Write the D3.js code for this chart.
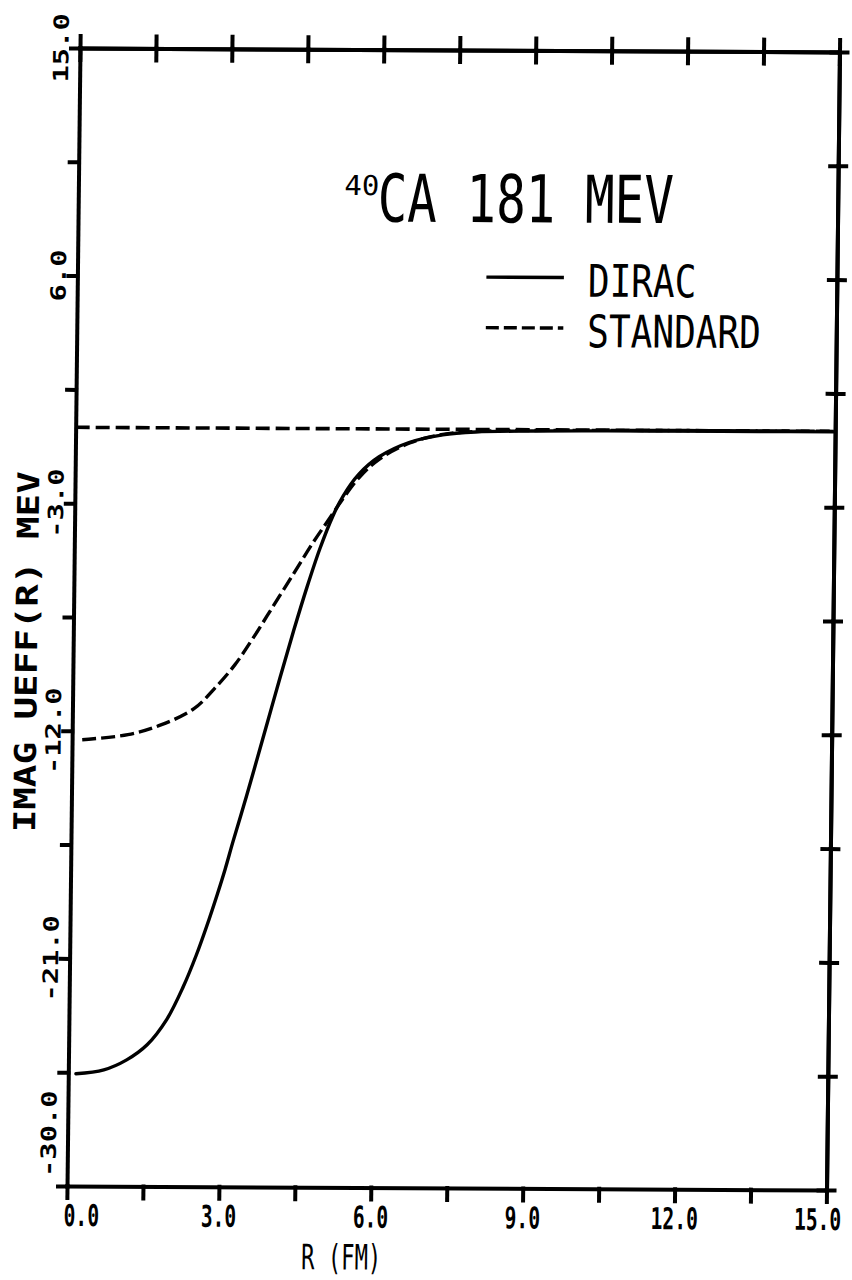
<!DOCTYPE html>
<html>
<head>
<meta charset="utf-8">
<script src="https://cdn.jsdelivr.net/npm/d3@7"></script>
<style>
body { margin: 0; background: #fff; }
svg { display: block; background: #fff; }
.page text { font-family: "DejaVu Sans Mono", "Liberation Mono", monospace; fill: #000; }
.axis path, .axis line { stroke: #000; stroke-width: 4; stroke-linecap: square; }
</style>
</head>
<body>
<svg class="chart" width="852" height="1280"></svg>
<script>
//curve data, r in fm, imag ueff in mev
const diracR = [0.15, 0.7, 1.15, 1.55, 1.93, 2.25, 2.5, 2.7, 2.9, 3.05, 3.2, 3.4, 3.6, 3.85, 4.1, 4.35, 4.6, 4.85, 5.1, 5.3, 5.6, 6.0, 6.6, 7.25, 7.9, 9.0, 10.5, 12.0, 13.5, 15.0];
const diracV = [-25.56, -25.4, -25.0, -24.4, -23.4, -22.1, -20.85, -19.7, -18.45, -17.45, -16.35, -14.95, -13.5, -11.65, -9.8, -8.0, -6.3, -4.75, -3.45, -2.65, -1.8, -1.1, -0.52, -0.22, -0.1, -0.05, -0.03, -0.02, -0.02, -0.02];
const standardR = [0.2, 1.1, 1.75, 2.4, 2.8, 3.2, 3.55, 3.95, 4.35, 4.7, 5.0, 5.25, 5.6, 6.0, 6.6, 7.25, 8.0, 9.0, 10.5, 12.0, 13.5, 15.0];
const standardV = [-12.35, -12.14, -11.75, -11.1, -10.3, -9.35, -8.3, -7.0, -5.7, -4.55, -3.65, -2.9, -1.95, -1.2, -0.55, -0.2, -0.07, -0.03, -0.01, 0, 0, 0];
const zeroR = [0, 15];
const zeroV = [0, 0];

//ticks and labels
const xTickValues = [0, 1.5, 3, 4.5, 6, 7.5, 9, 10.5, 12, 13.5, 15];
const yTickValues = [-30, -25.5, -21, -16.5, -12, -7.5, -3, 1.5, 6, 10.5, 15];
const xLabelValues = [0, 3, 6, 9, 12, 15];
const xLabels = ["0.0", "3.0", "6.0", "9.0", "12.0", "15.0"];
const yLabelValues = [-30, -21, -12, -3, 6, 15];
const yLabels = ["-30.0", "-21.0", "-12.0", "-3.0", "6.0", "15.0"];
const legendNames = ["DIRAC", "STANDARD"];

let svg = d3.select(".chart"),
	margin = {top: 50, right: 19, bottom: 92, left: 73.5},
	width = svg.attr("width") - margin.left - margin.right,
	height = svg.attr("height") - margin.top - margin.bottom;

//the scanned sheet is a little skewed
let page = svg.append("g")
	.attr("class", "page")
	.attr("transform", "matrix(1,0.0053,-0.0114,1,7.06,-2.4)");

let g = page.append("g")
	.attr("transform", "translate(" + margin.left + "," + margin.top + ")");

let x = d3.scaleLinear().domain([0, 15]).range([0, width]),
	y = d3.scaleLinear().domain([-30, 15]).range([height, 0]);

let line = d3.line()
	.x(function(d) { return x(d[0]); })
	.y(function(d) { return y(d[1]); })
	.curve(d3.curveCatmullRom.alpha(0.5));

//curves
g.append("path")
	.datum(d3.zip(zeroR, zeroV))
	.attr("d", line)
	.attr("fill", "none")
	.attr("stroke", "#000")
	.attr("stroke-width", 3.6)
	.attr("stroke-dasharray", "14,6");

g.append("path")
	.datum(d3.zip(standardR, standardV))
	.attr("d", line)
	.attr("fill", "none")
	.attr("stroke", "#000")
	.attr("stroke-width", 3.4)
	.attr("stroke-dasharray", "14,5");

g.append("path")
	.datum(d3.zip(diracR, diracV))
	.attr("d", line)
	.attr("fill", "none")
	.attr("stroke", "#000")
	.attr("stroke-width", 3.4)
	.attr("stroke-linecap", "round");

//axes, top and right ticks cross the frame
g.append("g").attr("class", "axis")
	.attr("transform", "translate(0," + height + ")")
	.call(d3.axisBottom(x).tickValues(xTickValues).tickSize(12).tickSizeOuter(0).tickFormat(""));
g.append("g").attr("class", "axis")
	.call(d3.axisLeft(y).tickValues(yTickValues).tickSize(9).tickSizeOuter(0).tickFormat(""));
g.append("g").attr("class", "axis")
	.call(d3.axisTop(x).tickValues(xTickValues).tickSize(12).tickSizeOuter(0).tickFormat(""));
g.append("g").attr("class", "axis")
	.call(d3.axisTop(x).tickValues(xTickValues).tickSize(-12).tickSizeOuter(0).tickFormat(""));
g.append("g").attr("class", "axis")
	.attr("transform", "translate(" + width + ",0)")
	.call(d3.axisRight(y).tickValues(yTickValues).tickSize(8).tickSizeOuter(0).tickFormat(""));
g.append("g").attr("class", "axis")
	.attr("transform", "translate(" + width + ",0)")
	.call(d3.axisRight(y).tickValues(yTickValues).tickSize(-8).tickSizeOuter(0).tickFormat(""));

//tick labels, the end ones are pushed inside the corners
let lastX = xLabelValues.length - 1;
g.selectAll(".x-label")
	.data(xLabelValues)
	.enter()
	.append("text")
	.attr("class", "x-label")
	.attr("transform", function(d, i) {
		let pos = x(d);
		if(i === 0){ pos = x(d) - 3; }
		if(i === lastX){ pos = x(d) + 15; }
		return "translate(" + pos + "," + (height + 40) + ") scale(0.653,1)";
	})
	.attr("text-anchor", function(d, i) {
		if(i === 0){ return "start"; }
		if(i === lastX){ return "end"; }
		return "middle";
	})
	.style("font-size", "30px")
	.style("font-weight", "bold")
	.text(function(d, i) { return xLabels[i]; });

g.selectAll(".y-label")
	.data(yLabelValues)
	.enter()
	.append("text")
	.attr("class", "y-label")
	.attr("transform", function(d, i) {
		let pos = i === 0 ? y(d) - 9 : y(d);
		return "translate(-11.5," + pos + ") rotate(-90)";
	})
	.attr("text-anchor", function(d, i) { return i === 0 ? "start" : "middle"; })
	.attr("textLength", function(d, i) { return yLabels[i].length * 17.3; })
	.attr("lengthAdjust", "spacingAndGlyphs")
	.style("font-size", "21px")
	.style("font-weight", "bold")
	.text(function(d, i) { return yLabels[i]; });

//axis titles
g.append("text")
	.attr("x", 275)
	.attr("y", height + 82)
	.attr("text-anchor", "middle")
	.attr("textLength", 80)
	.attr("lengthAdjust", "spacingAndGlyphs")
	.style("font-size", "35px")
	.text("R (FM)");

g.append("text")
	.attr("transform", "translate(-36,604) rotate(-90)")
	.attr("text-anchor", "middle")
	.attr("textLength", 361)
	.attr("lengthAdjust", "spacingAndGlyphs")
	.style("font-size", "30px")
	.style("font-weight", "bold")
	.text("IMAG UEFF(R) MEV");

//title
g.append("text")
	.attr("x", 266)
	.attr("y", 145.5)
	.attr("textLength", 35)
	.attr("lengthAdjust", "spacingAndGlyphs")
	.style("font-size", "27.5px")
	.text("40");
g.append("text")
	.attr("x", 299.5)
	.attr("y", 172)
	.attr("textLength", 296)
	.attr("lengthAdjust", "spacingAndGlyphs")
	.style("font-size", "66px")
	.text("CA 181 MEV");

//legend
let legend = g.selectAll(".legend")
	.data(legendNames)
	.enter()
	.append("g")
	.attr("class", "legend")
	.attr("transform", function(d, i) { return "translate(0," + (i * 50.5) + ")"; });

legend.append("line")
	.attr("x1", 409)
	.attr("x2", 486.5)
	.attr("y1", 227)
	.attr("y2", 227)
	.attr("stroke", "#000")
	.attr("stroke-width", 3.4)
	.attr("stroke-dasharray", function(d, i) { return i === 0 ? null : "13,5"; });

legend.append("text")
	.attr("x", 510.5)
	.attr("y", 246)
	.attr("textLength", function(d) { return d.length * 21.7; })
	.attr("lengthAdjust", "spacingAndGlyphs")
	.style("font-size", "45px")
	.text(function(d) { return d; });
</script>
</body>
</html>
